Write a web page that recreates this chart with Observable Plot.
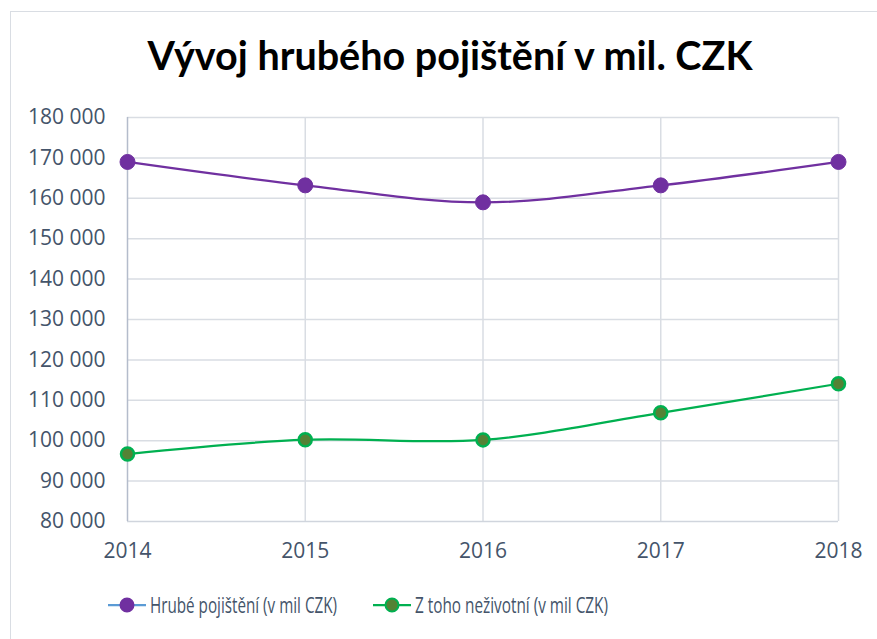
<!DOCTYPE html>
<html>
<head>
<meta charset="utf-8">
<script src="https://cdn.jsdelivr.net/npm/d3@7"></script>
<script src="https://cdn.jsdelivr.net/npm/@observablehq/plot@0.6"></script>
<style>
  html, body { margin: 0; padding: 0; background: #fff; width: 877px; height: 639px; overflow: hidden; }
  #frame { position: absolute; left: 10px; top: 11px; width: 900px; height: 700px;
           border-left: 1.5px solid #d9dde3; border-top: 1.5px solid #d9dde3; }
  #title { position: absolute; left: 0; width: 900px; top: 31px; text-align: center;
           font-family: Lato, "Open Sans", sans-serif; font-weight: bold; font-size: 39.5px; color: #000; }
  #chart { position: absolute; left: 0; top: 95px; }
  #legend { position: absolute; top: 590px; left: 0; }
</style>
</head>
<body>
<div id="frame"></div>
<div id="title">Vývoj hrubého pojištění v mil. CZK</div>
<div id="chart"></div>
<div id="legend"></div>
<script>
const years = [2014, 2015, 2016, 2017, 2018];
const gross = [169000, 163200, 159000, 163200, 169000];
const nonLife = [96700, 100250, 100200, 106900, 114100];
const yTicks = [80000, 90000, 100000, 110000, 120000, 130000, 140000, 150000, 160000, 170000, 180000];
const seriesNames = ["Hrubé pojištění (v mil CZK)", "Z toho neživotní (v mil CZK)"];

const grossData = years.map((y, i) => ({year: y, value: gross[i]}));
const nonLifeData = years.map((y, i) => ({year: y, value: nonLife[i]}));

const fmt = v => d3.format(",")(v).replace(/,/g, " ");
const gridColor = "#d9dde3";
const textColor = "#44546a";
const font = "'Open Sans', Lato, sans-serif";

const plot = Plot.plot({
  width: 877,
  height: 484,
  marginLeft: 127,
  marginRight: 39,
  marginTop: 22,
  marginBottom: 58,
  style: {fontFamily: font, color: textColor, background: "transparent"},
  x: {type: "linear", domain: [2014, 2018], label: null},
  y: {domain: [80000, 180000], label: null},
  marks: [
    Plot.gridY(yTicks.slice(1), {stroke: gridColor, strokeOpacity: 1, strokeWidth: 1.5}),
    Plot.gridX(years.slice(1), {stroke: gridColor, strokeOpacity: 1, strokeWidth: 1.5}),
    Plot.ruleY([80000], {stroke: "#d0d5dd", strokeWidth: 1.5}),
    Plot.ruleX([2014], {stroke: "#b4bccb", strokeWidth: 1.5}),
    Plot.axisX({ticks: years, tickFormat: d => String(d), tickSize: 0, tickPadding: 22, fill: textColor, fontSize: 21, label: null}),
    Plot.axisY({ticks: yTicks, tickFormat: fmt, tickSize: 0, tickPadding: 22, fill: textColor, fontSize: 21, label: null}),
    Plot.line(grossData, {x: "year", y: "value", stroke: "#7030a0", strokeWidth: 2.25, curve: "catmull-rom"}),
    Plot.line(nonLifeData, {x: "year", y: "value", stroke: "#00b050", strokeWidth: 2.25, curve: "catmull-rom"}),
    Plot.dot(grossData, {x: "year", y: "value", r: 7.5, fill: "#7030a0", stroke: "#7030a0", strokeWidth: 1}),
    Plot.dot(nonLifeData, {x: "year", y: "value", r: 6.5, fill: "#548235", stroke: "#00b050", strokeWidth: 2.5})
  ]
});
document.getElementById("chart").appendChild(plot);

// legend (SVG below the chart)
const swatches = [
  {line: "#5b9bd5", fill: "#7030a0", stroke: "#7030a0", x0: 108, x1: 146, textX: 150, textW: 187},
  {line: "#00b050", fill: "#548235", stroke: "#00b050", x0: 373, x1: 411, textX: 415, textW: 193}
];
const lg = d3.select("#legend").append("svg").attr("width", 877).attr("height", 34);
seriesNames.forEach((name, i) => {
  const s = swatches[i];
  lg.append("line").attr("x1", s.x0).attr("x2", s.x1).attr("y1", 15).attr("y2", 15)
    .attr("stroke", s.line).attr("stroke-width", 2.25);
  lg.append("circle").attr("cx", (s.x0 + s.x1) / 2).attr("cy", 15).attr("r", 6.5)
    .attr("fill", s.fill).attr("stroke", s.stroke).attr("stroke-width", 2);
  lg.append("text").attr("x", s.textX).attr("y", 22.5)
    .attr("font-family", font).attr("font-size", 21).attr("fill", textColor)
    .attr("textLength", s.textW).attr("lengthAdjust", "spacingAndGlyphs")
    .text(name);
});
</script>
</body>
</html>
